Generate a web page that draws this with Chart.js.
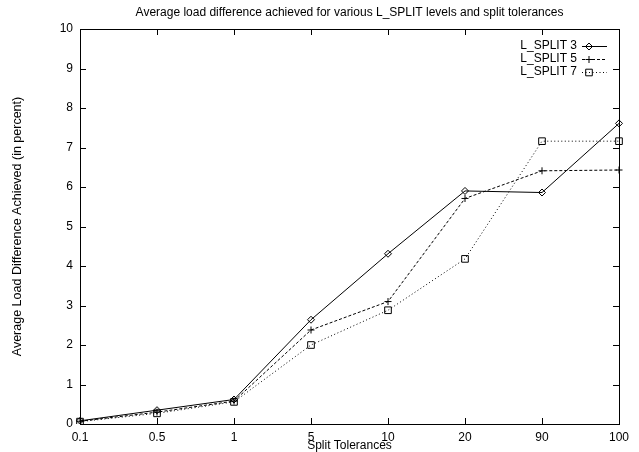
<!DOCTYPE html>
<html>
<head>
    <meta http-equiv="Content-Type" content="text/html; charset=UTF-8"/>
    <title>Average load difference</title>
    <script type="text/javascript" src="https://cdn.jsdelivr.net/npm/chart.js@4.4.0/dist/chart.umd.min.js"></script>
    <style>
        body { margin: 0; background: #ffffff; }
        canvas { display: block; }
    </style>
</head>
<body>
<canvas id="graficoCarico" width="639" height="452"></canvas>
<script type="text/javascript">
    var tolerances = ["0.1", "0.5", "1", "5", "10", "20", "90", "100"];
    var lSplit3 = [0.08, 0.35, 0.62, 2.64, 4.31, 5.90, 5.86, 7.61];
    var lSplit5 = [0.07, 0.30, 0.58, 2.38, 3.10, 5.71, 6.41, 6.43];
    var lSplit7 = [0.06, 0.27, 0.56, 2.00, 2.88, 4.18, 7.16, 7.16];
    var yTicks = [0, 1, 2, 3, 4, 5, 6, 7, 8, 9, 10];

    var fontName = "'Liberation Sans', Arial, Helvetica, sans-serif";

    // gnuplot style frame: full box with ticks pointing inward on every side
    var framePlugin = {
        id: 'frame',
        beforeDatasetsDraw: function (chart) {
            var ctx = chart.ctx;
            var area = chart.chartArea;
            var x = chart.scales.x;
            var y = chart.scales.y;
            var len = 6;
            ctx.save();
            ctx.strokeStyle = "#000";
            ctx.lineWidth = 1;
            ctx.beginPath();
            for (var i = 0; i < x.ticks.length; i++) {
                var px = Math.round(x.getPixelForTick(i)) + 0.5;
                ctx.moveTo(px, area.bottom);
                ctx.lineTo(px, area.bottom - len);
                ctx.moveTo(px, area.top);
                ctx.lineTo(px, area.top + len);
            }
            for (var j = 0; j < y.ticks.length; j++) {
                var py = Math.round(y.getPixelForTick(j)) + 0.5;
                ctx.moveTo(area.left, py);
                ctx.lineTo(area.left + len, py);
                ctx.moveTo(area.right, py);
                ctx.lineTo(area.right - len, py);
            }
            ctx.stroke();
            ctx.strokeRect(Math.round(area.left) + 0.5, Math.round(area.top) + 0.5,
                Math.round(area.right - area.left), Math.round(area.bottom - area.top));
            ctx.restore();
        }
    };

    var drawMarker = function (ctx, style, cx, cy) {
        ctx.beginPath();
        if (style === 'rectRot') {
            ctx.moveTo(cx, cy - 3.5);
            ctx.lineTo(cx + 3.5, cy);
            ctx.lineTo(cx, cy + 3.5);
            ctx.lineTo(cx - 3.5, cy);
            ctx.closePath();
        } else if (style === 'cross') {
            ctx.moveTo(cx - 3.5, cy);
            ctx.lineTo(cx + 3.5, cy);
            ctx.moveTo(cx, cy - 3.5);
            ctx.lineTo(cx, cy + 3.5);
        } else {
            ctx.rect(cx - 3.3, cy - 3.3, 6.6, 6.6);
        }
        ctx.stroke();
    };

    // legend in the gnuplot way: text on the left, line sample on the right
    var keyPlugin = {
        id: 'key',
        afterDatasetsDraw: function (chart) {
            var ctx = chart.ctx;
            var rows = [46, 59, 72];
            ctx.save();
            ctx.font = "12px " + fontName;
            ctx.textAlign = "right";
            ctx.textBaseline = "middle";
            chart.data.datasets.forEach(function (ds, k) {
                var ry = rows[k];
                ctx.fillStyle = "#000";
                ctx.fillText(ds.label, 577, ry);
                ctx.strokeStyle = "#000";
                ctx.lineWidth = 1;
                ctx.setLineDash(ds.borderDash);
                ctx.beginPath();
                ctx.moveTo(582, ry + 0.5);
                ctx.lineTo(607, ry + 0.5);
                ctx.stroke();
                ctx.setLineDash([]);
                drawMarker(ctx, ds.pointStyle, 589, ry + 0.5);
            });
            ctx.restore();
        }
    };

    var makeSet = function (label, values, dash, style, radius) {
        return {
            label: label,
            data: values,
            borderColor: "#000",
            borderWidth: 1,
            borderDash: dash,
            fill: false,
            tension: 0,
            pointStyle: style,
            pointRadius: radius,
            pointHoverRadius: radius,
            pointBorderColor: "#000",
            pointBackgroundColor: "rgba(0,0,0,0)",
            pointBorderWidth: 1
        };
    };

    var ctx = document.getElementById("graficoCarico");
    var myChart = new Chart(ctx, {
        type: 'line',
        data: {
            labels: tolerances,
            datasets: [
                makeSet("L_SPLIT 3", lSplit3, [], 'rectRot', 3.5),
                makeSet("L_SPLIT 5", lSplit5, [3, 2], 'cross', 3.5),
                makeSet("L_SPLIT 7", lSplit7, [1, 2.5], 'rect', 4.7)
            ]
        },
        options: {
            responsive: false,
            devicePixelRatio: 1,
            animation: false,
            layout: {padding: {left: 10, right: 20, top: 0, bottom: 0}},
            plugins: {
                legend: {display: false},
                tooltip: {enabled: false},
                title: {
                    display: true,
                    fullSize: false,
                    text: "Average load difference achieved for various L_SPLIT levels and split tolerances",
                    color: "#000",
                    font: {family: fontName, size: 12, weight: 'normal', lineHeight: 1.2},
                    padding: {top: 5, bottom: 9.6}
                }
            },
            scales: {
                x: {
                    type: 'category',
                    offset: false,
                    grid: {display: false, drawTicks: false},
                    border: {display: false},
                    ticks: {
                        color: "#000",
                        font: {family: fontName, size: 12},
                        padding: 6,
                        maxRotation: 0,
                        autoSkip: false
                    },
                    title: {
                        display: true,
                        text: "Split Tolerances",
                        color: "#000",
                        font: {family: fontName, size: 12, lineHeight: 1},
                        padding: 0
                    },
                    afterFit: function (s) { s.height = 28; }
                },
                y: {
                    min: 0,
                    max: 10,
                    grid: {display: false, drawTicks: false},
                    border: {display: false},
                    afterBuildTicks: function (s) {
                        s.ticks = yTicks.map(function (v) { return {value: v}; });
                    },
                    ticks: {
                        color: "#000",
                        font: {family: fontName, size: 12},
                        padding: 7
                    },
                    title: {
                        display: true,
                        text: "Average Load Difference Achieved (in percent)",
                        color: "#000",
                        font: {family: fontName, size: 12.5, lineHeight: 1.2},
                        padding: 0
                    },
                    afterFit: function (s) { s.width = 70; }
                }
            }
        },
        plugins: [framePlugin, keyPlugin]
    });
</script>
</body>
</html>
